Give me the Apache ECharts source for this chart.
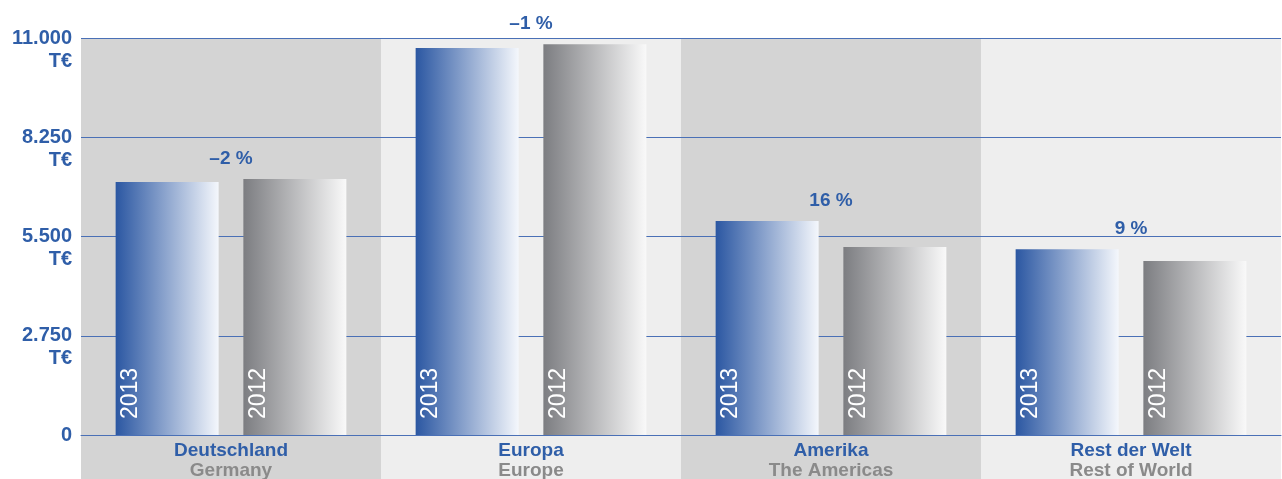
<!DOCTYPE html>
<html lang="de">
<head>
    <meta charset="utf-8">
    <title>Umsatz nach Regionen</title>
    <script src="https://cdn.jsdelivr.net/npm/echarts@6/dist/echarts.min.js"></script>
    <style>
        body { margin: 0; background: #fff; }
        #main { width: 1282px; height: 479px; }
    </style>
</head>
<body>
<div id="main"></div>
<script type="text/javascript">
    // Daten (T€)
    var regionen = ['Deutschland', 'Europa', 'Amerika', 'Rest der Welt'];
    var regionenEn = ['Germany', 'Europe', 'The Americas', 'Rest of World'];
    var werte2013 = [7010, 10720, 5930, 5150];
    var werte2012 = [7090, 10830, 5210, 4820];
    var veraenderung = ['–2 %', '–1 %', '16 %', '9 %'];
    var yTicks = [0, 2750, 5500, 8250, 11000];

    var blau = '#2f5ea8';
    var grau = '#8a8a8a';
    var linie = '#4a70b6';

    // Höhe für die Prozent-Label: jeweils der größere Balken
    var maxWerte = werte2013.map(function (v, i) { return Math.max(v, werte2012[i]); });

    function tausender(v) {
        return String(v).replace(/\B(?=(\d{3})+(?!\d))/g, '.');
    }

    // Jahreszahl senkrecht im Balken, links unten
    var balkenLabel = {
        show: true,
        position: 'insideBottom',
        distance: 16,
        rotate: 90,
        align: 'left',
        verticalAlign: 'middle',
        offset: [0, -36],   // im gedrehten System: y = nach links
        color: '#ffffff',
        fontFamily: 'Liberation Sans, Arial, sans-serif',
        fontSize: 23
    };

    var myChart = echarts.init(document.getElementById('main'));
    var option = {
        animation: false,
        grid: [
            { left: 81, right: 1, top: 38, bottom: 44, outerBoundsMode: 'none' },
            { left: 81, right: 1, top: 435, bottom: 0, outerBoundsMode: 'none' }
        ],
        xAxis: [{
            type: 'category',
            gridIndex: 0,
            data: regionen,
            axisLine: { show: true, lineStyle: { color: linie, width: 1 } },
            axisTick: { show: false },
            splitLine: { show: false },
            splitArea: { show: true, areaStyle: { color: ['#d4d4d4', '#eeeeee'] } },
            axisLabel: {
                interval: 0,
                margin: 5,
                formatter: function (v, i) {
                    return '{a|' + v + '}\n{b|' + regionenEn[i] + '}';
                },
                rich: {
                    a: { color: blau, fontWeight: 'bold', fontSize: 19, lineHeight: 21,
                         fontFamily: 'Liberation Sans, Arial, sans-serif' },
                    b: { color: grau, fontWeight: 'bold', fontSize: 19, lineHeight: 20,
                         fontFamily: 'Liberation Sans, Arial, sans-serif' }
                }
            }
        }, {
            // Band unter der Achse für die Beschriftung
            type: 'category',
            gridIndex: 1,
            data: regionen,
            axisLine: { show: false },
            axisTick: { show: false },
            axisLabel: { show: false },
            splitLine: { show: false },
            splitArea: { show: true, areaStyle: { color: ['#d4d4d4', '#eeeeee'] } }
        }],
        yAxis: [{
            type: 'value',
            gridIndex: 0,
            z: 1,
            min: yTicks[0],
            max: yTicks[yTicks.length - 1],
            interval: yTicks[1] - yTicks[0],
            axisLine: { show: false },
            axisTick: { show: false },
            splitLine: { show: true, lineStyle: { color: linie, width: 1 } },
            axisLabel: {
                margin: 9,
                color: blau,
                fontWeight: 'bold',
                fontSize: 20,
                lineHeight: 23,
                fontFamily: 'Liberation Sans, Arial, sans-serif',
                formatter: function (v) {
                    if (v === 0) return '0';
                    return ' \n' + tausender(v) + '\nT€';
                }
            }
        }, {
            type: 'value',
            gridIndex: 1,
            show: false
        }],
        series: [{
            name: '2013',
            type: 'bar',
            xAxisIndex: 0,
            yAxisIndex: 0,
            barWidth: 103,
            barGap: '24%',
            data: werte2013,
            itemStyle: {
                color: {
                    type: 'linear', x: 0, y: 0, x2: 1, y2: 0,
                    colorStops: [{ offset: 0, color: '#2b57a2' }, { offset: 1, color: '#f4f7fc' }]
                }
            },
            label: Object.assign({ formatter: '2013' }, balkenLabel)
        }, {
            name: '2012',
            type: 'bar',
            xAxisIndex: 0,
            yAxisIndex: 0,
            barWidth: 103,
            barGap: '24%',
            data: werte2012,
            itemStyle: {
                color: {
                    type: 'linear', x: 0, y: 0, x2: 1, y2: 0,
                    colorStops: [{ offset: 0, color: '#7c7d81' }, { offset: 1, color: '#f9f9f9' }]
                }
            },
            label: Object.assign({ formatter: '2012' }, balkenLabel)
        }, {
            // Veränderung in Prozent über jeder Gruppe
            type: 'scatter',
            xAxisIndex: 0,
            yAxisIndex: 0,
            symbolSize: 1,
            itemStyle: { color: 'rgba(0,0,0,0)', opacity: 1 },
            data: maxWerte,
            label: {
                show: true,
                position: 'top',
                distance: 10,
                color: blau,
                fontWeight: 'bold',
                fontSize: 19,
                fontFamily: 'Liberation Sans, Arial, sans-serif',
                formatter: function (p) { return veraenderung[p.dataIndex]; }
            },
            z: 5
        }]
    };
    myChart.setOption(option);
</script>
</body>
</html>
